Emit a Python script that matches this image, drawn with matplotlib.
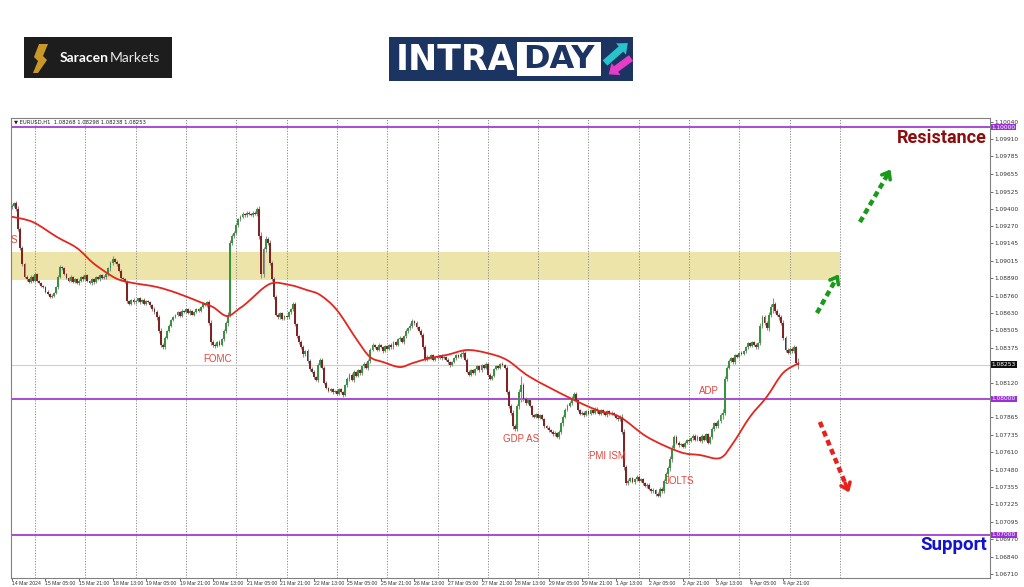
import numpy as np
import matplotlib
matplotlib.use("Agg")
import matplotlib.pyplot as plt
from matplotlib import transforms as mtransforms
from matplotlib.patches import Rectangle, Polygon, FancyArrow, PathPatch
from matplotlib.path import Path

# ---------------------------------------------------------------- data
SYMBOL_TITLE = "\u25BC EURUSD,H1  1.08268 1.08298 1.08238 1.08253"
FIRST_OPEN_PTS = 9410          # price = 1 + pts / 1e5

# hourly closes (pts above 1.00000), first bar 14 Mar 13:00
CLOSES_PTS = [
    9420, 9440, 9400, 9250, 9110, 8990, 8900,
    8880, 8860, 8900, 8870, 8920, 8870, 8850, 8830, 8820,
    8790, 8770, 8750, 8760, 8780, 8820,
    8900, 8970, 8960,
    8920, 8890, 8870, 8900, 8860, 8880, 8850, 8870,
    8900, 8880, 8910, 8870, 8850, 8880, 8860, 8900, 8880, 8910, 8890, 8900, 8920,
    8960, 9000, 9030, 9010, 8990,
    8940, 8890, 8880, 8860,
    8720, 8700,
    8730, 8710, 8720, 8740, 8710, 8730, 8700, 8720, 8710, 8690,
    8660, 8640, 8600,
    8500, 8400, 8380,
    8450, 8500, 8540, 8580, 8600,
    8620, 8640, 8610, 8650, 8640, 8660, 8630, 8650, 8620, 8640, 8660, 8650, 8680,
    8700, 8690, 8710,
    8560, 8420, 8400,
    8390, 8420, 8400, 8440,
    8500, 8560, 8620,
    9150, 9200, 9220,
    9280, 9320, 9340, 9360, 9350, 9370,
    9360, 9350, 9370, 9360, 9400,
    9200, 8920,
    9100, 9180, 9150,
    9000, 8880,
    8750, 8620,
    8600, 8630, 8590, 8610, 8600,
    8640, 8660, 8700,
    8550, 8460, 8420, 8380,
    8330, 8350, 8280, 8220, 8200,
    8160, 8140,
    8250, 8290, 8230,
    8120, 8080, 8060, 8070, 8050,
    8060, 8040, 8070, 8050, 8030,
    8100, 8150, 8180, 8140, 8200, 8170, 8210, 8190,
    8240, 8260, 8230, 8280,
    8360, 8400,
    8380, 8360, 8400, 8380, 8350, 8390, 8370, 8400, 8380, 8420,
    8400, 8440, 8450, 8420, 8460,
    8500, 8520, 8540,
    8570, 8560, 8530,
    8500, 8470,
    8380, 8290,
    8310, 8300, 8320, 8290, 8310,
    8300, 8320, 8300, 8310, 8290,
    8270, 8250, 8270,
    8300, 8320, 8310, 8330,
    8340, 8290,
    8200, 8180, 8210, 8190,
    8220, 8240, 8210, 8250, 8230, 8260,
    8180, 8150, 8170,
    8220, 8240, 8230, 8260, 8250, 8230,
    8050, 7950,
    7900, 7800, 7780,
    7950, 8050, 8100,
    8000, 7970, 7990, 7950,
    7880, 7870, 7890, 7860, 7880, 7850,
    7800, 7790,
    7770, 7760, 7740, 7750, 7720, 7760,
    7820, 7870, 7920, 7950, 7970,
    8010, 8040, 7990,
    7920, 7890, 7900, 7880, 7910, 7890, 7920,
    7900, 7930, 7910, 7890, 7920, 7900, 7880, 7910, 7890, 7900, 7880,
    7860, 7850, 7870,
    7760,
    7500, 7380,
    7400, 7420, 7390, 7410, 7430, 7400, 7410,
    7380, 7360, 7370,
    7340, 7320, 7330, 7300, 7290,
    7340, 7320,
    7400, 7450, 7490,
    7560, 7640, 7720,
    7680, 7660, 7670, 7650, 7680,
    7700, 7690, 7710,
    7730, 7700, 7720, 7690, 7730, 7700, 7740, 7680, 7720,
    7780, 7820, 7800, 7840,
    7880, 7900,
    8150, 8230,
    8280, 8300, 8270, 8320, 8310, 8340, 8330, 8350,
    8380, 8410, 8390, 8420, 8400, 8380, 8410,
    8540, 8600,
    8560, 8520, 8620,
    8680, 8700, 8650,
    8620, 8600, 8560,
    8450, 8360,
    8340, 8370, 8350, 8380, 8268,
    8253,
]

# wick length beyond the body (pts), one per bar
WICK_PTS = [
    12, 10, 14, 18, 16, 12, 10, 14, 8, 10, 12,
    10, 8, 6, 9, 7, 12, 8, 6, 10, 9, 11, 14, 12, 9, 7, 10, 8, 12, 6, 9, 8, 10, 7, 9,
    8, 10, 6, 9, 12, 7, 8, 10, 9, 11, 14, 12, 16, 18, 10, 12, 9, 14, 10, 8, 12, 9, 7, 10,
    8, 6, 9, 7, 10, 8, 6, 12, 10, 14, 16, 18, 20, 14, 12, 10, 9, 8, 10, 7, 9, 8, 10, 6,
    8, 7, 9, 6, 10, 8, 9, 7, 10, 8, 12, 16, 20, 14, 12, 10, 12, 9, 14, 16, 20, 18, 14, 16,
    12, 14, 10, 12, 9, 11, 10, 8, 12, 10, 14, 22, 30, 20, 16, 14, 18, 16, 14, 12, 10, 9, 12, 8,
    10, 9, 12, 14, 16, 12, 14, 16, 18, 12, 14, 16, 12, 14, 10, 12, 14, 10, 12, 9, 10, 8, 12, 9,
    14, 10, 8, 12, 10, 12, 14, 10, 12, 9, 10, 12, 10, 9, 12, 14, 12, 10, 8, 9, 10, 8, 9, 7,
    10, 8, 12, 9, 10, 12, 10, 9, 12, 14, 12, 16, 18, 14, 12, 10, 12, 16, 14, 10, 8, 9, 10, 8,
    9, 7, 10, 8, 9, 10, 12, 9, 8, 10, 9, 12, 20, 14, 12, 10, 9, 8, 10, 7, 9, 8, 10, 9,
    12, 10, 9, 8, 10, 9, 8, 10, 9, 14, 18, 16, 20, 14, 16, 20, 70, 14, 12, 10, 12, 9, 10, 8,
    9, 10, 8, 12, 10, 9, 12, 10, 14, 10, 12, 14, 16, 12, 10, 12, 14, 12, 10, 9, 8, 10, 9, 8,
    10, 8, 9, 10, 12, 8, 9, 10, 8, 9, 7, 10, 8, 10, 12, 14, 18, 22, 16, 12, 10, 9, 12, 10,
    9, 8, 10, 9, 12, 10, 9, 12, 10, 14, 12, 10, 12, 14, 16, 20, 24, 14, 12, 10, 9, 10, 12, 9,
    10, 8, 9, 10, 12, 9, 10, 8, 12, 9, 10, 12, 14, 10, 12, 16, 24, 20, 14, 12, 10, 9, 10, 8,
    9, 10, 8, 12, 10, 9, 10, 8, 12, 10, 16, 20, 14, 16, 18, 20, 45, 14, 12, 16, 14, 18, 16, 12,
    10, 12, 14, 10, 30,
]

# moving average (red line): bar index and value (pts)
MA_BAR = [0, 10, 21.5, 31, 38.7, 46.8, 51.5, 57.7, 69, 78.7, 89.7, 95.9, 102.6,
          108.8, 112, 123, 132.6, 140.7, 147, 155, 164.6, 170.8, 177, 185,
          191.3, 199.4, 207.5, 217, 226.6, 236.1, 247.1, 266.2, 279, 290, 303,
          318.7, 328.2, 337.8, 344, 352, 360, 367.8, 375.5]
MA_PTS = [9340, 9301, 9191, 9110, 9000, 8912, 8875, 8853, 8824, 8779, 8713, 8676,
          8610, 8669, 8706, 8846, 8838, 8801, 8765, 8654, 8434, 8309, 8272, 8235,
          8265, 8301, 8324, 8360, 8338, 8287, 8162, 8007, 7919, 7868, 7721, 7610,
          7588, 7566, 7676, 7868, 8015, 8191, 8265]

TIME_LABELS = ["14 Mar 2024", "15 Mar 05:00", "15 Mar 21:00", "18 Mar 13:00",
               "19 Mar 05:00", "19 Mar 21:00", "20 Mar 13:00", "21 Mar 05:00",
               "21 Mar 21:00", "22 Mar 13:00", "25 Mar 05:00", "25 Mar 21:00",
               "26 Mar 13:00", "27 Mar 05:00", "27 Mar 21:00", "28 Mar 13:00",
               "29 Mar 05:00", "29 Mar 21:00", "1 Apr 13:00", "2 Apr 05:00",
               "2 Apr 21:00", "3 Apr 13:00", "4 Apr 05:00", "4 Apr 21:00"]

PRICE_TICKS = [1.10040, 1.09910, 1.09785, 1.09655, 1.09525, 1.09400, 1.09270,
               1.09145, 1.09015, 1.08890, 1.08760, 1.08630, 1.08505, 1.08375,
               1.08120, 1.07865, 1.07735, 1.07610, 1.07480, 1.07355, 1.07225,
               1.07095, 1.06970, 1.06840, 1.06710]

LEVELS = [1.10000, 1.08000, 1.07000]
LAST_PRICE = 1.08253
ZONE_LOW, ZONE_HIGH = 1.08875, 1.09081
EVENT_NAMES = ["FOMC", "GDP AS", "PMI ISM", "JOLTS", "ADP"]

# ---------------------------------------------------------------- figure
W, H = 1024, 587
fig = plt.figure(figsize=(W / 100, H / 100), dpi=100)
fig.patch.set_facecolor("white")

L, R, T, B = 11, 990, 118, 578
ax = fig.add_axes([L / W, (H - B) / H, (R - L) / W, (B - T) / H])
ax.set_facecolor("white")

x0_px, bar_px = 11.94, 2.0964
ax.set_xlim((L - x0_px) / bar_px, (R - x0_px) / bar_px)
ppx = 13600.0
ax.set_ylim(1.08 - (B - 399) / ppx, 1.08 + (399 - T) / ppx)

closes = 1 + np.array(CLOSES_PTS, dtype=float) / 1e5
n = len(closes)
opens = np.concatenate([[1 + FIRST_OPEN_PTS / 1e5], closes[:-1]])
wk = np.array(WICK_PTS[:n], dtype=float)
if len(wk) < n:
    wk = np.concatenate([wk, np.full(n - len(wk), 8.0)])
wk = wk / 1e5
highs = np.maximum(opens, closes) + wk
lows = np.minimum(opens, closes) - wk
idx = np.arange(n)
up = closes >= opens

# yellow zone
ax.fill_between([ax.get_xlim()[0], 395], ZONE_LOW, ZONE_HIGH, color="#ece4a8", zorder=1, lw=0)

# day grid
for g in range(11, 400, 24):
    ax.axvline(g, color="#8a8a8a", lw=0.7, ls=(0, (1.2, 1.6)), zorder=1.5)

# levels
for lv in LEVELS:
    ax.axhline(lv, color="#a23bd6", lw=1.3, zorder=2)
ax.axhline(LAST_PRICE, color="#cfcfcf", lw=0.8, zorder=1.6)

# candles
ax.vlines(idx, lows, highs, color="#8e8e8e", lw=0.8, zorder=3)
body_lo = np.minimum(opens, closes)
body_h = np.maximum(np.abs(closes - opens), 0.00004)
ax.bar(idx[up], body_h[up], bottom=body_lo[up], width=0.9, color="#3a9140", lw=0, zorder=4)
ax.bar(idx[~up], body_h[~up], bottom=body_lo[~up], width=0.9, color="#7d2424", lw=0, zorder=4)

# moving average, drawn as a smooth curve through the read points
mx = np.array(MA_BAR, dtype=float)
my = 1 + np.array(MA_PTS, dtype=float) / 1e5
verts = [(mx[0], my[0])]
codes = [Path.MOVETO]
m = len(mx)
for i in range(m - 1):
    i0, i2, i3 = max(i - 1, 0), i + 1, min(i + 2, m - 1)
    c1 = (mx[i] + (mx[i2] - mx[i0]) / 6, my[i] + (my[i2] - my[i0]) / 6)
    c2 = (mx[i2] - (mx[i3] - mx[i]) / 6, my[i2] - (my[i3] - my[i]) / 6)
    verts += [c1, c2, (mx[i2], my[i2])]
    codes += [Path.CURVE4] * 3
ax.add_patch(PathPatch(Path(verts, codes), fill=False, ec="#e3261f", lw=1.3, zorder=5))

# event labels
ev_pos = [(98, 1.08294), (242.8, 1.07706), (283.9, 1.07581), (318.7, 1.07397), (332.5, 1.08059)]
for name, (ex, ey) in zip(EVENT_NAMES, ev_pos):
    ax.text(ex, ey, name, color="#e2463f", fontsize=7, ha="center", va="center",
            family=["Liberation Sans", "DejaVu Sans"], zorder=6)
ax.text(-0.6, 1.09169, "S", color="#e2463f", fontsize=7, ha="left", va="center",
        family=["Liberation Sans", "DejaVu Sans"], zorder=6, clip_on=True)

# resistance / support text
ax.text(465.1, 1.09919, "Resistance", color="#8b0d0d", fontsize=13, fontweight="bold",
        ha="right", va="center", family=["Liberation Sans Narrow", "Roboto", "DejaVu Sans"], zorder=6)
ax.text(465.1, 1.06926, "Support", color="#1212d0", fontsize=13.5, fontweight="bold",
        ha="right", va="center", family=["Liberation Sans Narrow", "Roboto", "DejaVu Sans"], zorder=6)

# dashed arrows
def dashed_arrow(p0, p1, color):
    (xa, ya), (xb, yb) = p0, p1
    f = 0.85
    ax.plot([xa, xa + (xb - xa) * f], [ya, ya + (yb - ya) * f], color=color, lw=3.2,
            ls=(0, (1.3, 0.9)), zorder=6, solid_capstyle="butt")
    ax.annotate("", xy=(xb, yb), xytext=(xa + (xb - xa) * 0.8, ya + (yb - ya) * 0.8),
                arrowprops=dict(arrowstyle="->,head_length=0.45,head_width=0.35",
                                color=color, lw=2.6), zorder=6)

dashed_arrow((384.0, 1.08632), (395.0, 1.08934), "#1a9a1a")
dashed_arrow((404.5, 1.09301), (419.8, 1.09706), "#1a9a1a")
dashed_arrow((385.4, 1.07831), (399.8, 1.07294), "#e8201c")

# title
ax.text(0.003, 0.997, SYMBOL_TITLE, transform=ax.transAxes, fontsize=3.8, va="top", ha="left",
        color="#222222", zorder=7)

# axes styling
for s in ax.spines.values():
    s.set_color("#808080")
    s.set_linewidth(0.8)
ax.yaxis.tick_right()
ax.set_yticks(PRICE_TICKS)
ax.set_yticklabels([f"{v:.5f}" for v in PRICE_TICKS])
ax.tick_params(axis="y", labelsize=4.2, length=2, width=0.5, pad=1, colors="#333333")
ax.set_xticks(np.arange(len(TIME_LABELS)) * 16)
ax.set_xticklabels(TIME_LABELS, ha="left", family=["Liberation Sans", "DejaVu Sans"])
ax.tick_params(axis="x", labelsize=3.7, length=2, width=0.5, pad=0.5, colors="#333333")

bt = mtransforms.blended_transform_factory(ax.transAxes, ax.transData)
for lv in LEVELS:
    ax.text(1.0015, lv, f"{lv:.5f}", transform=bt, fontsize=4.2, color="white", va="center",
            ha="left", zorder=8, clip_on=False,
            bbox=dict(boxstyle="square,pad=0.15", fc="#9a2fd6", ec="none"))
ax.text(1.0015, LAST_PRICE, f"{LAST_PRICE:.5f}", transform=bt, fontsize=4.2, color="white",
        va="center", ha="left", zorder=8, clip_on=False,
        bbox=dict(boxstyle="square,pad=0.15", fc="#111111", ec="none"))

# ---------------------------------------------------------------- header logos
ov = fig.add_axes([0, 0, 1, 1], zorder=-1)
ov.set_xlim(0, W)
ov.set_ylim(H, 0)
ov.axis("off")

# Saracen Markets
ov.add_patch(Rectangle((24, 37), 148, 41, fc="#1d1d1d", ec="none"))
ov.add_patch(Polygon([(39, 44), (48, 44), (43, 56), (47, 60), (38, 73), (33, 73),
                      (38, 61), (34, 57)], closed=True, fc="#c9962a", ec="none"))
renderer = fig.canvas.get_renderer()
t1 = ov.text(60, 58, "Saracen", color="white", fontsize=10, fontweight="bold",
             va="center", ha="left", family=["Lato", "DejaVu Sans"])
bb = t1.get_window_extent(renderer)
ov.text(bb.x1 + 0.5, 58, "Markets", color="#e8e8e8", fontsize=10, va="center", ha="left",
        family=["Lato", "DejaVu Sans"])

# INTRADAY
ov.add_patch(Rectangle((389, 37), 244, 44, fc="#1c3461", ec="none"))
ov.text(396, 59.5, "INTRA", color="white", fontsize=25, fontweight="bold", va="center",
        ha="left", family=["DejaVu Sans"])
ov.add_patch(Rectangle((517, 42), 84, 34, fc="white", ec="none"))
ov.text(559, 59.5, "DAY", color="#1c3461", fontsize=23, fontweight="bold", va="center",
        ha="center", family=["DejaVu Sans"])
ov.add_patch(FancyArrow(605, 63, 16, -14, width=7, head_width=15, head_length=9,
                        length_includes_head=False, fc="#29c3cc", ec="none"))
ov.add_patch(FancyArrow(631, 58, -15, 11, width=7, head_width=15, head_length=9,
                        length_includes_head=False, fc="#e63cc8", ec="none"))

fig.savefig("out.png", dpi=100)
